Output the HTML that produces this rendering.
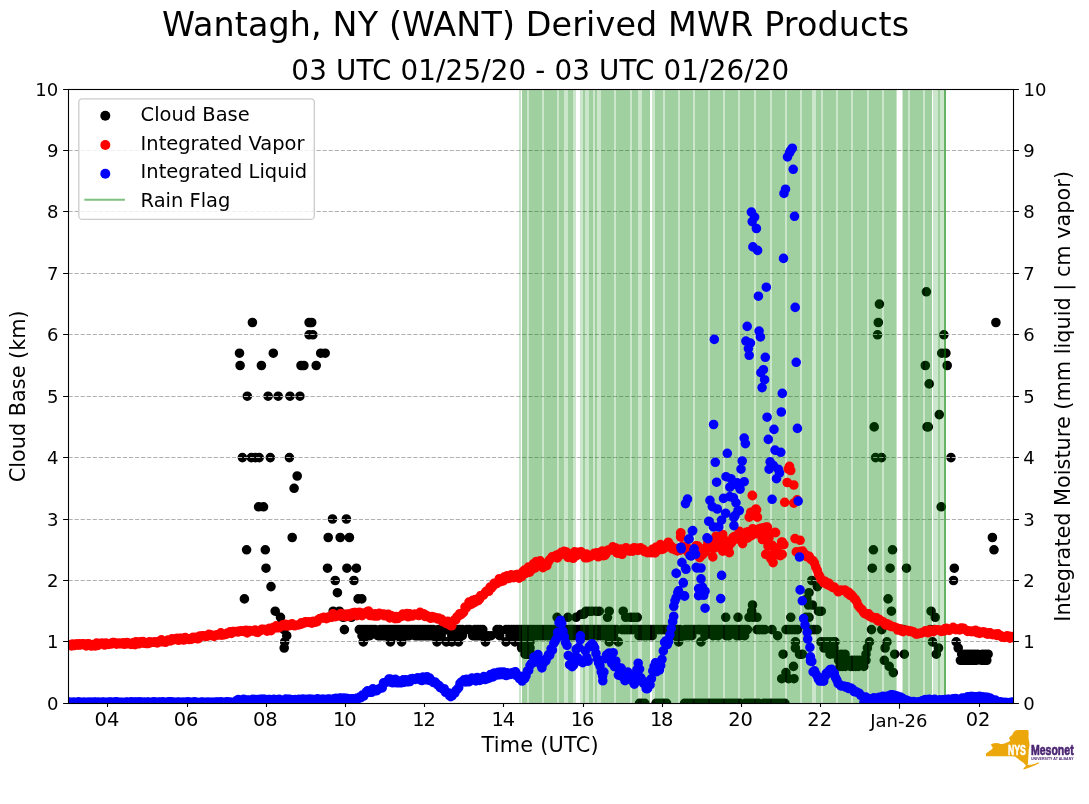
<!DOCTYPE html><html><head><meta charset="utf-8"><title>Wantagh MWR</title><style>html,body{margin:0;padding:0;background:#fff}svg{display:block}text{font-family:"DejaVu Sans","Liberation Sans",sans-serif;fill:#000}</style></head><body>
<svg width="1089" height="804" viewBox="0 0 1089 804">
<rect width="1089" height="804" fill="#fff"/>
<defs><clipPath id="ax"><rect x="68.5" y="89.5" width="945.0" height="614.0"/></clipPath></defs>
<g clip-path="url(#ax)">
<path d="M252.4 322.5h0M309.1 322.5h0M311.7 322.5h0M309.1 334.8h0M312.9 334.8h0M239.5 353.2h0M273.3 353.2h0M320.7 353.2h0M325.2 353.2h0M240.1 365.5h0M261.4 365.5h0M301.0 365.5h0M303.9 365.5h0M316.2 365.5h0M247.3 396.2h0M268.1 396.2h0M278.2 396.2h0M290.0 396.2h0M299.9 396.2h0M242.4 457.6h0M251.3 457.6h0M255.4 457.6h0M259.2 457.6h0M270.3 457.6h0M289.4 457.6h0M297.2 476.0h0M294.1 488.3h0M258.6 506.8h0M263.5 506.8h0M332.5 519.0h0M346.4 519.0h0M292.2 537.5h0M328.2 537.5h0M340.2 537.5h0M349.4 537.5h0M246.6 549.8h0M265.3 549.8h0M266.0 568.2h0M327.5 568.2h0M346.9 568.2h0M356.4 568.2h0M335.2 580.5h0M353.9 580.5h0M271.0 586.6h0M337.4 592.7h0M244.4 598.9h0M358.1 598.9h0M361.8 598.9h0M275.2 611.2h0M333.2 611.2h0M339.4 611.2h0M280.5 617.3h0M343.2 617.3h0M351.4 617.3h0M344.4 629.6h0M284.0 629.6h0M286.7 635.7h0M284.7 641.9h0M284.2 648.0h0M282.5 623.5h0M359.3 629.6h0M361.9 629.6h0M364.6 629.6h0M367.2 629.6h0M369.9 629.6h0M372.5 629.6h0M375.1 629.6h0M380.4 629.6h0M383.1 629.6h0M385.7 629.6h0M388.3 629.6h0M391.0 629.6h0M393.6 629.6h0M396.3 629.6h0M398.9 629.6h0M401.5 629.6h0M404.2 629.6h0M406.8 629.6h0M409.5 629.6h0M412.1 629.6h0M414.7 629.6h0M417.4 629.6h0M420.0 629.6h0M422.7 629.6h0M425.3 629.6h0M427.9 629.6h0M430.6 629.6h0M433.2 629.6h0M438.5 629.6h0M441.1 629.6h0M443.8 629.6h0M446.4 629.6h0M449.1 629.6h0M451.7 629.6h0M454.3 629.6h0M457.0 629.6h0M459.6 629.6h0M462.3 629.6h0M467.0 629.6h0M469.6 629.6h0M474.9 629.6h0M477.6 629.6h0M480.2 629.6h0M482.8 629.6h0M497.0 629.6h0M499.6 629.6h0M506.0 629.6h0M508.6 629.6h0M511.3 629.6h0M513.9 629.6h0M516.6 629.6h0M362.0 635.7h0M367.3 635.7h0M369.9 635.7h0M377.8 635.7h0M380.5 635.7h0M383.1 635.7h0M385.8 635.7h0M391.0 635.7h0M396.3 635.7h0M399.0 635.7h0M401.6 635.7h0M404.2 635.7h0M406.9 635.7h0M409.5 635.7h0M414.8 635.7h0M417.4 635.7h0M420.1 635.7h0M422.7 635.7h0M425.4 635.7h0M428.0 635.7h0M430.6 635.7h0M433.3 635.7h0M441.2 635.7h0M451.8 635.7h0M457.0 635.7h0M459.7 635.7h0M462.3 635.7h0M472.6 635.7h0M475.3 635.7h0M477.9 635.7h0M480.6 635.7h0M483.2 635.7h0M488.5 635.7h0M491.1 635.7h0M499.6 635.7h0M363.3 641.9h0M390.4 641.9h0M401.6 641.9h0M437.0 641.9h0M446.3 641.9h0M451.9 641.9h0M458.5 641.9h0M485.5 641.9h0M506.0 641.9h0M519.0 629.6h0M521.6 629.6h0M524.3 629.6h0M526.9 629.6h0M529.6 629.6h0M532.2 629.6h0M534.8 629.6h0M537.5 629.6h0M540.1 629.6h0M542.8 629.6h0M545.4 629.6h0M548.0 629.6h0M550.7 629.6h0M553.3 629.6h0M556.0 629.6h0M558.6 629.6h0M561.2 629.6h0M563.9 629.6h0M566.5 629.6h0M569.2 629.6h0M571.8 629.6h0M574.4 629.6h0M577.1 629.6h0M579.7 629.6h0M582.4 629.6h0M585.0 629.6h0M587.6 629.6h0M590.3 629.6h0M592.9 629.6h0M595.6 629.6h0M598.2 629.6h0M600.8 629.6h0M603.5 629.6h0M606.1 629.6h0M608.8 629.6h0M611.4 629.6h0M614.0 629.6h0M616.7 629.6h0M622.0 629.6h0M624.6 629.6h0M627.2 629.6h0M629.9 629.6h0M632.5 629.6h0M635.2 629.6h0M637.8 629.6h0M640.4 629.6h0M643.1 629.6h0M645.7 629.6h0M648.4 629.6h0M651.0 629.6h0M653.6 629.6h0M656.3 629.6h0M658.9 629.6h0M661.6 629.6h0M664.2 629.6h0M666.8 629.6h0M669.5 629.6h0M672.1 629.6h0M674.8 629.6h0M677.4 629.6h0M680.0 629.6h0M685.3 629.6h0M688.0 629.6h0M690.6 629.6h0M693.2 629.6h0M695.9 629.6h0M698.5 629.6h0M700.0 629.6h0M702.6 629.6h0M705.3 629.6h0M707.9 629.6h0M710.6 629.6h0M713.2 629.6h0M715.8 629.6h0M718.5 629.6h0M721.1 629.6h0M723.8 629.6h0M726.4 629.6h0M729.0 629.6h0M731.7 629.6h0M734.3 629.6h0M737.0 629.6h0M739.6 629.6h0M742.2 629.6h0M744.9 629.6h0M747.5 629.6h0M757.0 629.6h0M759.6 629.6h0M762.3 629.6h0M764.9 629.6h0M772.0 629.6h0M786.0 629.6h0M789.0 629.6h0M792.0 629.6h0M795.0 629.6h0M797.5 629.6h0M808.0 629.6h0M811.0 629.6h0M814.0 629.6h0M817.0 629.6h0M510.0 635.7h0M512.6 635.7h0M515.3 635.7h0M517.9 635.7h0M526.5 635.7h0M534.4 635.7h0M537.1 635.7h0M545.0 635.7h0M547.6 635.7h0M550.3 635.7h0M566.0 635.7h0M568.6 635.7h0M571.3 635.7h0M573.9 635.7h0M579.2 635.7h0M581.8 635.7h0M584.5 635.7h0M587.1 635.7h0M592.4 635.7h0M597.7 635.7h0M600.3 635.7h0M603.0 635.7h0M605.6 635.7h0M613.5 635.7h0M639.0 635.7h0M641.6 635.7h0M644.3 635.7h0M646.9 635.7h0M649.6 635.7h0M652.2 635.7h0M675.0 635.7h0M677.6 635.7h0M680.3 635.7h0M685.6 635.7h0M676.0 635.7h0M678.6 635.7h0M683.9 635.7h0M689.2 635.7h0M691.8 635.7h0M705.0 635.7h0M713.0 635.7h0M718.2 635.7h0M726.2 635.7h0M728.8 635.7h0M736.7 635.7h0M739.4 635.7h0M744.6 635.7h0M777.6 635.7h0M515.0 641.9h0M609.2 641.9h0M618.3 641.9h0M678.6 641.9h0M701.0 641.9h0M795.4 641.9h0M821.0 641.9h0M824.0 641.9h0M827.0 641.9h0M830.0 641.9h0M833.0 641.9h0M835.0 641.9h0M521.6 648.0h0M524.0 648.0h0M795.4 648.0h0M824.0 648.0h0M829.0 648.0h0M834.0 648.0h0M525.0 654.2h0M528.0 654.2h0M531.5 654.2h0M783.1 654.2h0M799.5 654.2h0M802.3 654.2h0M830.0 654.2h0M835.0 654.2h0M838.0 654.2h0M557.1 617.3h0M567.9 617.3h0M576.1 617.3h0M607.5 617.3h0M625.7 617.3h0M630.7 617.3h0M634.0 617.3h0M637.3 617.3h0M725.7 617.3h0M738.0 617.3h0M749.0 617.3h0M753.0 617.3h0M757.0 617.3h0M790.8 617.3h0M806.0 617.3h0M809.0 617.3h0M586.0 611.2h0M589.0 611.2h0M592.0 611.2h0M596.0 611.2h0M599.3 611.2h0M609.2 611.2h0M623.2 611.2h0M751.7 611.2h0M818.5 611.2h0M821.3 611.2h0M581.0 614.2h0M584.0 614.2h0M752.5 605.0h0M808.5 605.0h0M812.4 605.0h0M806.8 598.9h0M809.0 592.7h0M811.8 580.5h0M817.3 586.6h0M793.5 666.4h0M785.9 672.6h0M781.7 678.7h0M788.6 678.7h0M794.0 678.7h0M838.6 660.3h0M841.3 660.3h0M843.9 660.3h0M846.6 660.3h0M849.2 660.3h0M851.8 660.3h0M854.5 660.3h0M857.1 660.3h0M859.8 660.3h0M862.4 660.3h0M865.0 660.3h0M840.0 666.4h0M842.6 666.4h0M845.3 666.4h0M850.6 666.4h0M853.2 666.4h0M855.8 666.4h0M858.5 666.4h0M863.8 666.4h0M841.4 654.2h0M845.0 654.2h0M866.0 654.2h0M866.0 660.3h0M639.5 703.3h0M642.1 703.3h0M644.8 703.3h0M656.0 703.3h0M658.6 703.3h0M661.3 703.3h0M663.9 703.3h0M666.6 703.3h0M684.6 703.3h0M687.2 703.3h0M689.9 703.3h0M692.5 703.3h0M695.2 703.3h0M697.8 703.3h0M700.4 703.3h0M703.1 703.3h0M705.7 703.3h0M708.4 703.3h0M711.0 703.3h0M713.6 703.3h0M716.3 703.3h0M718.9 703.3h0M721.6 703.3h0M724.2 703.3h0M726.8 703.3h0M729.5 703.3h0M732.1 703.3h0M734.8 703.3h0M737.4 703.3h0M740.0 703.3h0M745.3 703.3h0M748.0 703.3h0M750.6 703.3h0M753.2 703.3h0M755.9 703.3h0M758.5 703.3h0M763.8 703.3h0M766.4 703.3h0M769.1 703.3h0M771.7 703.3h0M774.4 703.3h0M777.0 703.3h0M779.6 703.3h0M782.3 703.3h0M784.9 703.3h0M519.0 635.7h0M521.6 635.7h0M524.3 635.7h0M526.9 635.7h0M529.6 635.7h0M532.2 635.7h0M534.8 635.7h0M537.5 635.7h0M540.1 635.7h0M542.8 635.7h0M545.4 635.7h0M548.0 635.7h0M550.7 635.7h0M521.0 641.9h0M524.0 641.9h0M527.0 641.9h0M530.0 641.9h0M522.0 648.0h0M525.0 648.0h0M528.0 648.0h0M530.0 648.0h0M526.0 654.2h0M529.0 654.2h0M926.4 291.8h0M879.4 304.1h0M878.3 322.5h0M995.9 322.5h0M877.5 334.8h0M943.9 334.8h0M941.8 353.2h0M945.9 353.2h0M925.3 365.5h0M947.2 365.5h0M929.2 383.9h0M939.3 414.6h0M874.2 426.9h0M927.0 426.9h0M928.3 426.9h0M875.6 457.6h0M881.6 457.6h0M951.0 457.6h0M941.2 506.8h0M992.4 537.5h0M994.0 549.8h0M873.4 549.8h0M892.5 549.8h0M872.3 568.2h0M890.1 568.2h0M906.5 568.2h0M954.3 568.2h0M953.5 580.5h0M888.1 598.9h0M891.4 611.2h0M931.1 611.2h0M935.2 617.3h0M871.5 629.6h0M881.8 629.6h0M903.5 629.6h0M930.3 629.6h0M934.4 629.6h0M869.5 641.9h0M887.0 641.9h0M932.5 641.9h0M956.2 641.9h0M867.4 648.0h0M885.1 648.0h0M938.5 648.0h0M958.2 648.0h0M894.7 654.2h0M904.3 654.2h0M936.3 654.2h0M866.0 654.2h0M884.3 660.3h0M889.2 666.4h0M893.3 672.6h0M961.7 654.2h0M964.3 654.2h0M967.0 654.2h0M969.6 654.2h0M972.3 654.2h0M974.9 654.2h0M977.5 654.2h0M982.8 654.2h0M985.5 654.2h0M988.1 654.2h0M960.4 660.3h0M963.0 660.3h0M965.7 660.3h0M968.3 660.3h0M971.0 660.3h0M973.6 660.3h0M976.2 660.3h0M981.5 660.3h0M984.2 660.3h0M986.8 660.3h0" stroke="#000" stroke-width="9.6" stroke-linecap="round" fill="none"/>
<path d="M68.5 641.5H1013.5M68.5 580.5H1013.5M68.5 519.5H1013.5M68.5 457.5H1013.5M68.5 396.5H1013.5M68.5 334.5H1013.5M68.5 273.5H1013.5M68.5 211.5H1013.5M68.5 150.5H1013.5" stroke="#b0b0b0" stroke-width="1" stroke-dasharray="4.2 1.85" fill="none"/>
<g fill="rgb(0,128,0)"><rect x="519.0" y="89.5" width="2.0" height="614.0" fill-opacity="0.200"/><rect x="522.0" y="89.5" width="5.0" height="614.0" fill-opacity="0.373"/><rect x="527.0" y="89.5" width="2.0" height="614.0" fill-opacity="0.200"/><rect x="529.0" y="89.5" width="13.0" height="614.0" fill-opacity="0.373"/><rect x="542.0" y="89.5" width="2.0" height="614.0" fill-opacity="0.200"/><rect x="544.0" y="89.5" width="13.0" height="614.0" fill-opacity="0.373"/><rect x="557.0" y="89.5" width="2.0" height="614.0" fill-opacity="0.200"/><rect x="559.0" y="89.5" width="5.0" height="614.0" fill-opacity="0.373"/><rect x="564.0" y="89.5" width="4.0" height="614.0" fill-opacity="0.200"/><rect x="568.0" y="89.5" width="5.0" height="614.0" fill-opacity="0.373"/><rect x="573.0" y="89.5" width="3.0" height="614.0" fill-opacity="0.200"/><rect x="580.0" y="89.5" width="3.0" height="614.0" fill-opacity="0.200"/><rect x="583.0" y="89.5" width="2.0" height="614.0" fill-opacity="0.373"/><rect x="585.0" y="89.5" width="4.0" height="614.0" fill-opacity="0.200"/><rect x="589.0" y="89.5" width="4.0" height="614.0" fill-opacity="0.373"/><rect x="593.0" y="89.5" width="2.0" height="614.0" fill-opacity="0.200"/><rect x="595.0" y="89.5" width="2.0" height="614.0" fill-opacity="0.373"/><rect x="597.0" y="89.5" width="4.0" height="614.0" fill-opacity="0.200"/><rect x="601.0" y="89.5" width="13.0" height="614.0" fill-opacity="0.373"/><rect x="614.0" y="89.5" width="2.0" height="614.0" fill-opacity="0.200"/><rect x="616.0" y="89.5" width="14.0" height="614.0" fill-opacity="0.373"/><rect x="630.0" y="89.5" width="2.0" height="614.0" fill-opacity="0.200"/><rect x="632.0" y="89.5" width="6.0" height="614.0" fill-opacity="0.373"/><rect x="638.0" y="89.5" width="4.0" height="614.0" fill-opacity="0.200"/><rect x="642.0" y="89.5" width="8.0" height="614.0" fill-opacity="0.373"/><rect x="652.0" y="89.5" width="3.0" height="614.0" fill-opacity="0.200"/><rect x="655.0" y="89.5" width="8.0" height="614.0" fill-opacity="0.373"/><rect x="663.0" y="89.5" width="2.0" height="614.0" fill-opacity="0.200"/><rect x="665.0" y="89.5" width="13.0" height="614.0" fill-opacity="0.373"/><rect x="678.0" y="89.5" width="2.0" height="614.0" fill-opacity="0.200"/><rect x="680.0" y="89.5" width="13.0" height="614.0" fill-opacity="0.373"/><rect x="693.0" y="89.5" width="2.0" height="614.0" fill-opacity="0.200"/><rect x="695.0" y="89.5" width="13.0" height="614.0" fill-opacity="0.373"/><rect x="708.0" y="89.5" width="2.0" height="614.0" fill-opacity="0.200"/><rect x="710.0" y="89.5" width="13.0" height="614.0" fill-opacity="0.373"/><rect x="723.0" y="89.5" width="2.0" height="614.0" fill-opacity="0.200"/><rect x="725.0" y="89.5" width="13.0" height="614.0" fill-opacity="0.373"/><rect x="738.0" y="89.5" width="2.0" height="614.0" fill-opacity="0.200"/><rect x="740.0" y="89.5" width="14.0" height="614.0" fill-opacity="0.373"/><rect x="754.0" y="89.5" width="2.0" height="614.0" fill-opacity="0.200"/><rect x="756.0" y="89.5" width="14.0" height="614.0" fill-opacity="0.373"/><rect x="770.0" y="89.5" width="2.0" height="614.0" fill-opacity="0.200"/><rect x="772.0" y="89.5" width="13.0" height="614.0" fill-opacity="0.373"/><rect x="785.0" y="89.5" width="2.0" height="614.0" fill-opacity="0.200"/><rect x="787.0" y="89.5" width="13.0" height="614.0" fill-opacity="0.373"/><rect x="800.0" y="89.5" width="2.0" height="614.0" fill-opacity="0.200"/><rect x="802.0" y="89.5" width="10.0" height="614.0" fill-opacity="0.373"/><rect x="812.0" y="89.5" width="4.0" height="614.0" fill-opacity="0.200"/><rect x="816.0" y="89.5" width="5.0" height="614.0" fill-opacity="0.373"/><rect x="821.0" y="89.5" width="2.0" height="614.0" fill-opacity="0.200"/><rect x="823.0" y="89.5" width="13.0" height="614.0" fill-opacity="0.373"/><rect x="836.0" y="89.5" width="2.0" height="614.0" fill-opacity="0.200"/><rect x="838.0" y="89.5" width="13.0" height="614.0" fill-opacity="0.373"/><rect x="851.0" y="89.5" width="2.0" height="614.0" fill-opacity="0.200"/><rect x="853.0" y="89.5" width="14.0" height="614.0" fill-opacity="0.373"/><rect x="867.0" y="89.5" width="2.0" height="614.0" fill-opacity="0.200"/><rect x="869.0" y="89.5" width="13.0" height="614.0" fill-opacity="0.373"/><rect x="882.0" y="89.5" width="2.0" height="614.0" fill-opacity="0.200"/><rect x="884.0" y="89.5" width="12.6" height="614.0" fill-opacity="0.373"/><rect x="902.5" y="89.5" width="5.5" height="614.0" fill-opacity="0.373"/><rect x="908.0" y="89.5" width="2.0" height="614.0" fill-opacity="0.200"/><rect x="910.0" y="89.5" width="13.0" height="614.0" fill-opacity="0.373"/><rect x="923.0" y="89.5" width="2.0" height="614.0" fill-opacity="0.200"/><rect x="925.0" y="89.5" width="7.0" height="614.0" fill-opacity="0.373"/><rect x="933.0" y="89.5" width="5.0" height="614.0" fill-opacity="0.200"/><rect x="938.0" y="89.5" width="2.0" height="614.0" fill-opacity="0.373"/><rect x="940.0" y="89.5" width="4.0" height="614.0" fill-opacity="0.200"/><rect x="944.0" y="89.5" width="2.0" height="614.0" fill-opacity="0.600"/></g>
<path d="M69.0 645.1h0M70.3 644.5h0M71.6 645.9h0M73.0 644.1h0M74.3 645.5h0M75.6 644.9h0M76.9 643.9h0M78.2 645.2h0M79.6 643.8h0M80.9 644.9h0M82.2 643.8h0M83.5 643.8h0M84.8 644.7h0M86.2 645.9h0M87.5 643.7h0M88.8 643.9h0M90.1 645.1h0M91.4 646.0h0M92.8 644.8h0M94.1 644.2h0M95.4 645.9h0M96.7 643.1h0M98.0 645.4h0M99.4 643.7h0M100.7 643.2h0M102.0 643.1h0M103.3 643.6h0M104.6 645.0h0M106.0 643.1h0M107.3 644.2h0M108.6 644.4h0M109.9 643.5h0M111.2 644.0h0M112.6 642.5h0M113.9 642.5h0M115.2 642.9h0M116.5 644.2h0M117.8 643.4h0M119.2 643.1h0M120.5 643.8h0M121.8 643.4h0M123.1 642.9h0M124.4 644.3h0M125.8 644.0h0M127.1 642.6h0M128.4 643.6h0M129.7 643.4h0M131.0 644.4h0M132.4 643.9h0M133.7 642.5h0M135.0 644.6h0M136.3 641.9h0M137.6 642.8h0M139.0 643.8h0M140.3 641.9h0M141.6 642.9h0M142.9 641.5h0M144.2 643.3h0M145.6 643.4h0M146.9 642.7h0M148.2 643.5h0M149.5 641.7h0M150.8 642.7h0M152.2 642.3h0M153.5 642.2h0M154.8 641.7h0M156.1 642.7h0M157.4 642.9h0M158.8 641.4h0M160.1 641.8h0M161.4 639.9h0M162.7 641.7h0M164.0 641.4h0M165.4 642.3h0M166.7 641.7h0M168.0 640.0h0M169.3 640.1h0M170.6 640.9h0M172.0 638.8h0M173.3 639.9h0M174.6 638.9h0M175.9 638.6h0M177.2 638.3h0M178.6 640.3h0M179.9 638.2h0M181.2 638.4h0M182.5 638.7h0M183.8 640.0h0M185.2 637.5h0M186.5 638.5h0M187.8 638.6h0M189.1 639.5h0M190.4 639.1h0M191.8 639.1h0M193.1 637.2h0M194.4 637.5h0M195.7 637.2h0M197.0 638.6h0M198.4 638.7h0M199.7 636.1h0M201.0 636.0h0M202.3 635.9h0M203.6 635.8h0M205.0 636.3h0M206.3 636.5h0M207.6 635.3h0M208.9 634.3h0M210.2 635.4h0M211.6 635.0h0M212.9 635.5h0M214.2 636.4h0M215.5 635.5h0M216.8 634.7h0M218.2 634.9h0M219.5 634.9h0M220.8 632.8h0M222.1 635.1h0M223.4 634.6h0M224.8 634.7h0M226.1 634.3h0M227.4 633.0h0M228.7 632.9h0M230.0 631.9h0M231.4 633.4h0M232.7 631.6h0M234.0 631.5h0M235.3 631.8h0M236.6 631.6h0M238.0 632.0h0M239.3 631.0h0M240.6 630.8h0M241.9 631.1h0M243.2 630.9h0M244.6 631.6h0M245.9 630.4h0M247.2 632.9h0M248.5 632.0h0M249.8 630.5h0M251.2 630.7h0M252.5 630.9h0M253.8 630.8h0M255.1 630.0h0M256.4 632.0h0M257.8 632.4h0M259.1 630.7h0M260.4 630.6h0M261.7 629.3h0M263.0 629.2h0M264.4 629.9h0M265.7 629.5h0M267.0 631.1h0M268.3 629.0h0M269.6 628.4h0M271.0 630.7h0M272.3 628.9h0M273.6 627.3h0M274.9 628.0h0M276.2 625.9h0M277.6 626.9h0M278.9 627.8h0M280.2 627.0h0M281.5 626.3h0M282.8 624.8h0M284.2 625.0h0M285.5 624.3h0M286.8 626.0h0M288.1 625.1h0M289.4 625.7h0M290.8 624.2h0M292.1 623.8h0M293.4 625.4h0M294.7 625.8h0M296.0 625.3h0M297.4 625.0h0M298.7 624.9h0M300.0 624.5h0M301.3 622.9h0M302.6 623.6h0M304.0 623.0h0M305.3 621.9h0M306.6 621.7h0M307.9 622.3h0M309.2 621.9h0M310.6 622.8h0M311.9 623.2h0M313.2 621.3h0M314.5 622.3h0M315.8 622.1h0M317.2 621.6h0M318.5 619.5h0M319.8 618.6h0M321.1 618.3h0M322.4 617.8h0M323.8 617.4h0M325.1 618.3h0M326.4 618.7h0M327.7 618.1h0M329.0 616.7h0M330.4 617.0h0M331.7 617.3h0M333.0 613.7h0M334.3 615.9h0M335.6 616.6h0M337.0 616.1h0M338.3 616.0h0M339.6 614.9h0M340.9 613.5h0M342.2 616.1h0M343.6 614.0h0M344.9 616.0h0M346.2 616.7h0M347.5 614.1h0M348.8 614.0h0M350.2 616.3h0M351.5 615.3h0M352.8 612.7h0M354.1 612.5h0M355.4 612.5h0M356.8 615.7h0M358.1 615.2h0M359.4 612.2h0M360.7 615.1h0M362.0 615.7h0M363.4 614.2h0M364.7 612.8h0M366.0 613.5h0M367.3 611.6h0M368.6 611.1h0M370.0 615.5h0M371.3 614.3h0M372.6 613.9h0M373.9 615.9h0M375.2 613.9h0M376.6 616.0h0M377.9 615.9h0M379.2 613.4h0M380.5 613.8h0M381.8 614.1h0M383.2 614.1h0M384.5 615.8h0M385.8 614.5h0M387.1 615.4h0M388.4 614.3h0M389.8 617.9h0M391.1 615.6h0M392.4 616.2h0M393.7 617.0h0M395.0 618.6h0M396.4 616.5h0M397.7 618.5h0M399.0 616.6h0M400.3 616.5h0M401.6 616.4h0M403.0 614.0h0M404.3 615.7h0M405.6 614.4h0M406.9 613.5h0M408.2 616.8h0M409.6 613.9h0M410.9 615.1h0M412.2 616.0h0M413.5 615.1h0M414.8 614.0h0M416.2 614.6h0M417.5 614.7h0M418.8 615.5h0M420.1 612.4h0M421.4 614.6h0M422.8 613.6h0M424.1 614.0h0M425.4 616.5h0M426.7 615.6h0M428.0 616.2h0M429.4 617.3h0M430.7 618.3h0M432.0 616.6h0M433.3 617.6h0M434.6 617.4h0M436.0 617.8h0M437.3 618.9h0M438.6 618.1h0M439.9 618.8h0M441.2 619.0h0M442.6 621.7h0M443.9 621.3h0M445.2 622.7h0M446.5 623.7h0M447.8 621.3h0M449.2 623.3h0M450.5 625.6h0M451.8 625.8h0M453.1 621.4h0M454.4 619.9h0M455.8 619.8h0M457.1 616.7h0M458.4 616.0h0M459.7 613.7h0M461.0 614.6h0M462.4 613.4h0M463.7 612.1h0M465.0 607.1h0M466.3 607.9h0M467.6 605.9h0M469.0 602.1h0M470.3 604.6h0M471.6 604.2h0M472.9 600.2h0M474.2 602.7h0M475.6 599.5h0M476.9 599.1h0M478.2 600.6h0M479.5 599.2h0M480.8 595.5h0M482.2 595.8h0M483.5 595.0h0M484.8 593.1h0M486.1 591.3h0M487.4 590.7h0M488.8 591.3h0M490.1 587.1h0M491.4 588.2h0M492.7 586.5h0M494.0 583.4h0M495.4 583.5h0M496.7 583.6h0M498.0 581.9h0M499.3 578.7h0M500.6 581.7h0M502.0 580.4h0M503.3 580.9h0M504.6 576.7h0M505.9 577.0h0M507.2 575.7h0M508.6 578.5h0M509.9 575.9h0M511.2 574.9h0M512.5 575.9h0M513.8 577.6h0M515.2 576.9h0M516.5 574.6h0M517.8 574.5h0M519.1 578.2h0M520.4 576.7h0M521.8 576.6h0M523.1 571.4h0M524.4 570.1h0M525.7 573.4h0M527.0 570.5h0M528.4 567.1h0M529.7 572.1h0M531.0 569.2h0M532.3 569.4h0M533.6 563.7h0M535.0 568.0h0M536.3 561.5h0M537.6 565.8h0M538.9 561.8h0M540.2 560.8h0M541.6 563.6h0M542.9 567.6h0M544.2 564.5h0M545.5 564.5h0M546.8 565.7h0M548.2 562.2h0M549.5 559.8h0M550.8 558.7h0M552.1 556.8h0M553.4 556.6h0M554.8 556.2h0M556.1 555.4h0M557.4 557.9h0M558.7 554.2h0M560.0 555.1h0M561.4 552.4h0M562.7 553.1h0M564.0 551.3h0M565.3 553.3h0M566.6 552.1h0M568.0 557.4h0M569.3 556.6h0M570.6 554.6h0M571.9 555.9h0M573.2 558.3h0M574.6 551.9h0M575.9 556.0h0M577.2 552.7h0M578.5 552.4h0M579.8 554.3h0M581.2 551.9h0M582.5 553.3h0M583.8 555.2h0M585.1 557.8h0M586.4 554.0h0M587.8 557.7h0M589.1 557.0h0M590.4 556.7h0M591.7 555.3h0M593.0 555.0h0M594.4 553.2h0M595.7 553.5h0M597.0 552.7h0M598.3 556.8h0M599.6 553.1h0M601.0 552.0h0M602.3 551.0h0M603.6 555.7h0M604.9 555.4h0M606.2 553.6h0M607.6 550.4h0M608.9 549.7h0M610.2 549.6h0M611.5 549.9h0M612.8 546.9h0M614.2 548.7h0M615.5 547.8h0M616.8 552.9h0M618.1 553.3h0M619.4 550.8h0M620.8 549.0h0M622.1 554.3h0M623.4 549.8h0M624.7 550.1h0M626.0 547.7h0M627.4 550.3h0M628.7 550.9h0M630.0 551.1h0M631.3 549.1h0M632.6 551.1h0M634.0 547.7h0M635.3 549.5h0M636.6 548.3h0M637.9 550.4h0M639.2 548.0h0M640.6 547.9h0M641.9 549.8h0M643.2 549.3h0M644.5 551.7h0M645.8 551.3h0M647.2 552.6h0M648.5 551.7h0M649.8 551.9h0M651.1 552.8h0M652.4 549.3h0M653.8 548.7h0M655.1 552.9h0M656.4 547.0h0M657.7 550.4h0M659.0 549.3h0M660.4 544.6h0M661.7 549.4h0M663.0 549.2h0M664.3 546.8h0M665.6 546.9h0M667.0 546.9h0M668.3 542.2h0M669.6 545.5h0M670.9 545.9h0M672.2 548.8h0M673.6 549.2h0M674.9 549.9h0M676.2 548.5h0M677.5 550.9h0M678.8 549.8h0M680.2 550.2h0M681.5 547.3h0M682.8 546.3h0M684.1 547.3h0M685.4 549.1h0M686.8 547.4h0M688.1 552.3h0M689.4 550.3h0M690.7 550.6h0M692.0 550.5h0M693.4 550.7h0M694.7 549.3h0M696.0 545.8h0M697.3 551.1h0M698.6 552.1h0M700.0 553.4h0M701.3 555.6h0M702.6 554.7h0M703.9 549.0h0M705.2 551.8h0M706.6 546.8h0M707.9 543.9h0M709.2 544.8h0M710.5 547.6h0M711.8 543.6h0M713.2 546.8h0M714.5 548.0h0M715.8 544.3h0M717.1 543.1h0M718.4 543.3h0M719.8 544.2h0M721.1 544.4h0M722.4 542.9h0M723.7 543.5h0M725.0 540.4h0M726.4 541.5h0M727.7 542.9h0M729.0 546.1h0M730.3 541.9h0M731.6 542.5h0M733.0 537.5h0M734.3 536.6h0M735.6 536.8h0M736.9 539.0h0M738.2 539.0h0M739.6 538.7h0M740.9 535.9h0M742.2 537.2h0M743.5 536.1h0M744.8 535.4h0M746.2 532.4h0M747.5 537.0h0M748.8 531.6h0M750.1 536.4h0M751.4 535.5h0M752.8 528.7h0M754.1 531.1h0M755.4 533.0h0M756.7 533.8h0M758.0 530.1h0M759.4 528.7h0M760.7 528.2h0M762.0 533.0h0M763.3 527.9h0M764.6 530.3h0M766.0 527.1h0M680.6 532.9h0M680.9 533.0h0M680.6 537.0h0M697.9 546.1h0M699.6 557.7h0M704.5 552.7h0M712.8 556.9h0M707.9 542.8h0M716.1 536.2h0M722.7 534.5h0M722.7 551.1h0M729.3 552.7h0M727.7 541.2h0M736.0 537.9h0M739.3 531.2h0M742.6 543.6h0M747.5 532.9h0M747.5 538.0h0M754.1 529.6h0M759.1 531.2h0M767.4 527.1h0M765.7 532.9h0M762.4 539.5h0M769.0 537.9h0M775.6 532.6h0M772.3 545.3h0M782.2 542.0h0M783.9 544.5h0M777.3 547.8h0M765.7 554.4h0M778.9 555.2h0M770.7 558.5h0M773.1 562.6h0M782.2 554.4h0M774.9 532.4h0M781.7 542.0h0M766.7 554.3h0M780.4 555.7h0M768.0 546.0h0M775.0 551.0h0M752.5 495.7h0M756.6 509.8h0M750.8 512.2h0M749.2 517.2h0M757.4 517.2h0M787.2 482.5h0M793.8 485.0h0M784.7 502.3h0M793.8 503.1h0M797.1 499.8h0M795.0 538.6h0M800.1 540.3h0M796.3 551.9h0M789.5 466.3h0M790.7 470.5h0M788.3 469.0h0M752.2 495.4h0M755.9 509.0h0M800.0 551.6h0M801.3 552.9h0M802.6 551.1h0M804.0 554.1h0M805.3 554.4h0M806.6 556.6h0M807.9 556.9h0M809.2 556.4h0M810.6 559.0h0M811.9 560.0h0M813.2 560.9h0M814.5 563.2h0M815.8 567.2h0M817.2 570.1h0M818.5 574.1h0M819.8 576.3h0M821.1 579.5h0M822.4 580.5h0M823.8 582.8h0M825.1 581.3h0M826.4 584.1h0M827.7 584.9h0M829.0 583.4h0M830.4 586.2h0M831.7 586.2h0M833.0 587.5h0M834.3 587.1h0M835.6 588.7h0M837.0 590.1h0M838.3 591.8h0M839.6 590.6h0M840.9 590.0h0M842.2 590.2h0M843.6 590.2h0M844.9 590.1h0M846.2 590.8h0M847.5 593.4h0M848.8 592.4h0M850.2 595.4h0M851.5 594.9h0M852.8 596.4h0M854.1 598.6h0M855.4 599.3h0M856.8 601.8h0M858.1 605.4h0M859.4 607.2h0M860.7 608.6h0M862.0 609.6h0M863.4 612.0h0M864.7 613.7h0M866.0 613.6h0M867.3 614.9h0M868.6 613.9h0M870.0 616.7h0M871.3 616.5h0M872.6 617.8h0M873.9 618.2h0M875.2 617.8h0M876.6 617.8h0M877.9 620.9h0M879.2 619.4h0M880.5 621.0h0M881.8 621.3h0M883.2 621.8h0M884.5 623.7h0M885.8 625.0h0M887.1 623.7h0M888.4 625.4h0M889.8 625.1h0M891.1 626.5h0M892.4 626.7h0M893.7 626.7h0M895.0 627.2h0M896.4 627.7h0M897.7 630.0h0M899.0 629.2h0M900.3 628.8h0M901.6 631.1h0M903.0 631.7h0M904.3 630.5h0M905.6 630.0h0M906.9 630.4h0M908.2 630.5h0M909.6 631.5h0M910.9 631.0h0M912.2 631.6h0M913.5 631.9h0M914.8 633.0h0M916.2 634.1h0M917.5 634.0h0M918.8 633.3h0M920.1 633.2h0M921.4 633.1h0M922.8 632.4h0M924.1 632.0h0M925.4 630.9h0M926.7 631.2h0M928.0 632.8h0M929.4 630.1h0M930.7 630.9h0M932.0 631.2h0M933.3 631.7h0M934.6 629.8h0M936.0 629.9h0M937.3 629.7h0M938.6 630.1h0M939.9 630.1h0M941.2 631.4h0M942.6 631.1h0M943.9 631.0h0M945.2 628.5h0M946.5 628.3h0M947.8 630.0h0M949.2 630.4h0M950.5 629.0h0M951.8 629.1h0M953.1 627.3h0M954.4 628.2h0M955.8 629.6h0M957.1 629.1h0M958.4 629.3h0M959.7 629.9h0M961.0 628.1h0M962.4 628.0h0M963.7 628.4h0M965.0 629.7h0M966.3 630.4h0M967.6 631.4h0M969.0 631.0h0M970.3 631.1h0M971.6 631.7h0M972.9 631.0h0M974.2 631.5h0M975.6 630.3h0M976.9 632.6h0M978.2 631.3h0M979.5 633.4h0M980.8 632.9h0M982.2 632.1h0M983.5 631.9h0M984.8 632.4h0M986.1 633.7h0M987.4 634.1h0M988.8 632.7h0M990.1 632.8h0M991.4 634.3h0M992.7 634.7h0M994.0 634.3h0M995.4 634.1h0M996.7 635.4h0M998.0 633.9h0M999.3 635.0h0M1000.6 635.6h0M1002.0 637.2h0M1003.3 636.6h0M1004.6 637.4h0M1005.9 636.4h0M1007.2 635.9h0M1008.6 636.0h0M1009.9 638.1h0M1011.2 637.6h0M1012.5 636.6h0" stroke="#f00" stroke-width="9.6" stroke-linecap="round" fill="none"/>
<path d="M68.0 701.9h0M69.3 702.2h0M70.6 702.3h0M72.0 702.2h0M73.3 702.1h0M74.6 702.3h0M75.9 702.5h0M77.2 702.0h0M78.6 701.9h0M79.9 702.1h0M81.2 702.2h0M82.5 702.3h0M83.8 702.0h0M85.2 702.4h0M86.5 702.3h0M87.8 702.2h0M89.1 702.0h0M90.4 702.5h0M91.8 702.1h0M93.1 702.4h0M94.4 702.0h0M95.7 702.0h0M97.0 702.4h0M98.4 702.1h0M99.7 702.5h0M101.0 702.2h0M102.3 702.0h0M103.6 702.0h0M105.0 702.2h0M106.3 702.3h0M107.6 702.5h0M108.9 702.0h0M110.2 702.1h0M111.6 702.0h0M112.9 702.5h0M114.2 702.0h0M115.5 701.9h0M116.8 701.9h0M118.2 702.1h0M119.5 702.4h0M120.8 702.4h0M122.1 702.3h0M123.4 702.5h0M124.8 702.5h0M126.1 702.1h0M127.4 702.0h0M128.7 702.5h0M130.0 702.3h0M131.4 701.9h0M132.7 702.3h0M134.0 702.1h0M135.3 702.1h0M136.6 702.1h0M138.0 702.0h0M139.3 701.9h0M140.6 702.1h0M141.9 702.1h0M143.2 702.5h0M144.6 702.0h0M145.9 702.5h0M147.2 702.0h0M148.5 702.1h0M149.8 702.4h0M151.2 702.4h0M152.5 702.2h0M153.8 701.9h0M155.1 702.2h0M156.4 702.1h0M157.8 702.5h0M159.1 702.0h0M160.4 702.1h0M161.7 702.4h0M163.0 701.9h0M164.4 702.1h0M165.7 702.4h0M167.0 702.4h0M168.3 701.9h0M169.6 701.9h0M171.0 701.9h0M172.3 702.5h0M173.6 702.1h0M174.9 702.3h0M176.2 702.4h0M177.6 702.1h0M178.9 702.1h0M180.2 702.5h0M181.5 702.3h0M182.8 702.1h0M184.2 702.3h0M185.5 702.1h0M186.8 702.1h0M188.1 701.9h0M189.4 702.4h0M190.8 702.4h0M192.1 702.3h0M193.4 702.5h0M194.7 701.9h0M196.0 702.0h0M197.4 702.2h0M198.7 702.5h0M200.0 702.5h0M201.3 702.1h0M202.6 702.1h0M204.0 702.2h0M205.3 702.2h0M206.6 702.5h0M207.9 702.0h0M209.2 702.4h0M210.6 702.3h0M211.9 702.4h0M213.2 702.4h0M214.5 702.3h0M215.8 702.1h0M217.2 702.1h0M218.5 702.1h0M219.8 702.4h0M221.1 701.9h0M222.4 702.0h0M223.8 702.4h0M225.1 702.0h0M226.4 701.9h0M227.7 701.9h0M229.0 702.2h0M230.4 702.1h0M231.7 702.5h0M233.0 702.4h0M234.3 702.3h0M235.6 701.3h0M237.0 700.2h0M238.3 699.6h0M239.6 699.8h0M240.9 700.1h0M242.2 699.7h0M243.6 699.4h0M244.9 699.7h0M246.2 700.0h0M247.5 700.0h0M248.8 700.1h0M250.2 700.3h0M251.5 700.0h0M252.8 699.2h0M254.1 700.2h0M255.4 699.5h0M256.8 699.9h0M258.1 699.6h0M259.4 700.1h0M260.7 699.3h0M262.0 699.4h0M263.4 699.4h0M264.7 699.3h0M266.0 700.3h0M267.3 699.8h0M268.6 699.5h0M270.0 699.6h0M271.3 700.4h0M272.6 699.7h0M273.9 699.3h0M275.2 700.2h0M276.6 699.9h0M277.9 700.4h0M279.2 699.2h0M280.5 699.7h0M281.8 700.2h0M283.2 700.2h0M284.5 700.3h0M285.8 699.1h0M287.1 699.4h0M288.4 699.2h0M289.8 699.3h0M291.1 700.3h0M292.4 699.8h0M293.7 700.3h0M295.0 699.5h0M296.4 700.2h0M297.7 699.6h0M299.0 699.3h0M300.3 700.1h0M301.6 700.3h0M303.0 699.1h0M304.3 699.8h0M305.6 699.8h0M306.9 699.3h0M308.2 699.5h0M309.6 699.1h0M310.9 699.2h0M312.2 699.3h0M313.5 699.8h0M314.8 699.8h0M316.2 699.2h0M317.5 698.9h0M318.8 699.4h0M320.1 699.9h0M321.4 699.2h0M322.8 699.4h0M324.1 699.2h0M325.4 700.0h0M326.7 699.7h0M328.0 699.0h0M329.4 699.0h0M330.7 699.4h0M332.0 699.4h0M333.3 699.4h0M334.6 698.5h0M336.0 698.4h0M337.3 699.0h0M338.6 698.5h0M339.9 698.1h0M341.2 698.0h0M342.6 698.9h0M343.9 698.1h0M345.2 698.6h0M346.5 698.4h0M347.8 698.6h0M349.2 699.4h0M350.5 699.7h0M351.8 698.9h0M353.1 698.8h0M354.4 699.7h0M355.8 699.1h0M357.1 698.1h0M358.4 698.6h0M359.7 697.1h0M361.0 697.6h0M362.4 695.1h0M363.7 696.2h0M365.0 693.8h0M366.3 692.0h0M367.6 690.7h0M369.0 692.2h0M370.3 691.9h0M371.6 692.3h0M372.9 688.9h0M374.2 691.0h0M375.6 690.0h0M376.9 690.6h0M378.2 689.2h0M379.5 688.7h0M380.8 688.0h0M382.2 687.9h0M383.5 682.9h0M384.8 682.8h0M386.1 682.3h0M387.4 681.9h0M388.8 679.1h0M390.1 679.0h0M391.4 682.4h0M392.7 682.8h0M394.0 680.9h0M395.4 679.3h0M396.7 682.8h0M398.0 680.7h0M399.3 682.8h0M400.6 681.7h0M402.0 682.6h0M403.3 679.9h0M404.6 682.2h0M405.9 679.8h0M407.2 680.3h0M408.6 681.8h0M409.9 681.5h0M411.2 678.7h0M412.5 678.6h0M413.8 679.1h0M415.2 679.4h0M416.5 678.8h0M417.8 677.7h0M419.1 678.1h0M420.4 679.9h0M421.8 680.5h0M423.1 677.0h0M424.4 679.0h0M425.7 679.7h0M427.0 676.7h0M428.4 680.2h0M429.7 678.1h0M431.0 680.8h0M432.3 681.4h0M433.6 682.5h0M435.0 682.0h0M436.3 683.3h0M437.6 684.9h0M438.9 685.5h0M440.2 687.6h0M441.6 688.0h0M442.9 689.1h0M444.2 688.7h0M445.5 692.3h0M446.8 692.8h0M448.2 692.7h0M449.5 695.7h0M450.8 696.6h0M452.1 695.8h0M453.4 693.4h0M454.8 693.2h0M456.1 690.4h0M457.4 689.2h0M458.7 687.6h0M460.0 683.4h0M461.4 682.0h0M462.7 681.9h0M464.0 679.8h0M465.3 681.9h0M466.6 679.4h0M468.0 681.7h0M469.3 681.6h0M470.6 680.2h0M471.9 678.1h0M473.2 679.6h0M474.6 678.9h0M475.9 680.9h0M477.2 677.5h0M478.5 680.1h0M479.8 680.4h0M481.2 679.2h0M482.5 679.3h0M483.8 676.6h0M485.1 679.5h0M486.4 677.2h0M487.8 678.6h0M489.1 678.1h0M490.4 674.6h0M491.7 676.7h0M493.0 676.9h0M494.4 673.0h0M495.7 673.8h0M497.0 675.0h0M498.3 672.2h0M499.6 674.7h0M501.0 672.1h0M502.3 674.5h0M503.6 672.0h0M504.9 673.6h0M506.2 675.5h0M507.6 672.9h0M508.9 673.3h0M510.2 674.5h0M511.5 674.0h0M512.8 672.5h0M514.2 672.8h0M515.5 671.9h0M516.8 675.9h0M518.1 676.0h0M519.4 678.6h0M520.8 676.3h0M522.1 681.0h0M523.4 679.0h0M524.7 678.5h0M526.0 675.8h0M527.4 671.0h0M528.7 670.4h0M530.0 665.6h0M531.3 663.6h0M532.6 663.0h0M534.0 657.0h0M535.3 660.3h0M536.6 657.1h0M537.9 654.5h0M539.2 660.5h0M540.6 664.6h0M541.9 667.9h0M543.2 663.7h0M544.5 660.5h0M545.8 660.9h0M547.2 657.6h0M548.5 654.7h0M549.8 655.1h0M551.1 648.8h0M552.4 650.2h0M553.8 643.3h0M555.1 641.3h0M556.4 638.8h0M557.7 632.3h0M559.0 622.6h0M560.4 620.2h0M561.7 623.5h0M563.0 631.1h0M564.3 636.6h0M565.6 642.5h0M567.0 645.4h0M568.3 655.5h0M569.6 664.7h0M570.9 664.1h0M572.2 666.6h0M573.6 665.2h0M574.9 656.7h0M576.2 649.3h0M577.5 657.7h0M578.8 647.4h0M580.2 639.8h0M581.5 661.9h0M582.8 662.7h0M584.1 661.7h0M585.4 650.8h0M586.8 657.5h0M588.1 661.2h0M589.4 646.5h0M590.7 645.1h0M592.0 643.7h0M593.4 645.5h0M594.7 647.9h0M596.0 653.4h0M597.3 658.8h0M598.6 662.9h0M600.0 666.0h0M601.3 672.0h0M602.6 676.3h0M603.9 672.1h0M605.2 658.7h0M606.6 655.0h0M607.9 653.9h0M609.2 653.0h0M610.5 660.2h0M611.8 663.4h0M613.2 652.7h0M614.5 666.7h0M615.8 661.0h0M617.1 666.6h0M618.4 675.1h0M619.8 671.7h0M621.1 668.1h0M622.4 676.5h0M623.7 677.8h0M625.0 680.7h0M626.4 678.8h0M627.7 672.0h0M629.0 674.3h0M630.3 678.4h0M631.6 679.5h0M633.0 681.7h0M634.3 684.2h0M635.6 675.3h0M636.9 669.6h0M638.2 663.2h0M639.6 669.1h0M640.9 677.9h0M642.2 680.7h0M643.5 683.3h0M644.8 681.9h0M646.2 688.7h0M647.5 688.7h0M648.8 685.3h0M650.1 684.9h0M651.4 678.7h0M652.8 670.9h0M654.1 666.3h0M655.4 662.9h0M656.7 671.7h0M658.0 670.6h0M659.4 670.1h0M660.7 665.6h0M662.0 659.3h0M663.3 650.9h0M664.6 642.3h0M666.0 640.7h0M667.3 644.7h0M668.6 641.5h0M669.9 635.0h0M671.2 628.3h0M672.6 621.7h0M580.4 635.8h0M602.8 680.8h0M673.8 606.3h0M676.1 598.0h0M678.5 590.9h0M684.4 595.7h0M683.2 582.6h0M676.1 573.2h0M685.6 568.5h0M682.0 562.6h0M680.9 547.2h0M689.1 538.9h0M692.7 530.6h0M693.9 549.6h0M691.0 556.0h0M696.2 567.3h0M698.6 588.6h0M698.6 595.7h0M791.5 149.4h0M792.3 148.2h0M790.4 151.0h0M789.5 152.9h0M787.5 156.9h0M793.2 169.3h0M785.5 189.2h0M784.0 193.4h0M751.4 212.1h0M754.6 217.1h0M752.2 221.6h0M756.4 228.5h0M794.5 216.3h0M752.9 246.9h0M757.6 250.4h0M783.5 258.4h0M766.3 287.2h0M758.4 296.2h0M795.2 307.4h0M747.2 326.4h0M759.1 331.1h0M760.4 336.9h0M714.3 339.4h0M745.9 341.1h0M750.4 343.1h0M748.4 348.6h0M749.2 355.3h0M765.3 357.3h0M796.2 362.3h0M763.4 369.7h0M760.9 372.7h0M764.6 379.7h0M762.1 387.6h0M782.3 393.4h0M781.3 412.0h0M767.1 417.2h0M713.6 424.5h0M774.0 429.4h0M797.4 428.4h0M744.2 438.1h0M745.4 443.6h0M768.3 439.4h0M775.0 450.1h0M780.8 452.3h0M727.3 453.3h0M715.3 462.3h0M742.2 461.0h0M741.0 469.2h0M770.1 461.8h0M773.3 465.5h0M769.1 469.2h0M778.3 469.2h0M779.5 473.0h0M776.5 478.7h0M726.0 476.7h0M731.0 478.7h0M716.6 482.2h0M744.2 481.7h0M737.2 482.9h0M733.5 484.2h0M729.8 487.2h0M739.7 487.9h0M723.5 498.4h0M729.8 496.6h0M733.5 497.9h0M736.0 502.8h0M772.1 499.3h0M687.5 499.1h0M685.5 503.6h0M709.9 500.3h0M712.3 506.6h0M717.3 509.0h0M798.2 501.1h0M738.0 510.5h0M733.9 517.4h0M725.7 513.3h0M721.6 520.1h0M733.9 525.6h0M709.2 521.5h0M713.4 526.9h0M718.8 526.9h0M707.9 538.7h0M692.3 531.0h0M688.7 539.2h0M681.3 548.8h0M694.2 548.8h0M695.6 554.3h0M690.1 555.7h0M681.9 562.5h0M686.0 569.3h0M676.4 573.4h0M696.9 568.0h0M701.0 568.0h0M701.0 578.9h0M721.6 575.4h0M683.3 583.0h0M702.4 587.1h0M705.1 591.2h0M699.7 595.3h0M703.8 595.3h0M677.8 592.6h0M684.6 596.2h0M675.0 600.8h0M673.7 606.3h0M720.7 598.6h0M705.1 608.2h0M673.7 616.4h0M740.1 489.1h0M739.3 510.6h0M735.1 515.5h0M708.7 521.3h0M707.0 537.9h0M799.5 557.0h0M800.1 589.9h0M802.3 600.8h0M803.6 618.6h0M807.2 632.3h0M807.7 639.1h0M809.9 647.3h0M810.5 661.0h0M805.0 625.0h0M810.5 656.9h0M811.8 661.5h0M813.1 671.8h0M814.5 670.8h0M815.8 673.9h0M817.1 676.0h0M818.4 679.2h0M819.7 681.0h0M821.1 681.2h0M822.4 680.5h0M823.7 681.2h0M825.0 676.4h0M826.3 673.4h0M827.7 673.9h0M829.0 671.0h0M830.3 669.5h0M831.6 669.4h0M832.9 672.7h0M834.3 673.1h0M835.6 677.7h0M836.9 680.2h0M838.2 683.7h0M839.5 684.3h0M840.9 685.9h0M842.2 686.0h0M843.5 686.0h0M844.8 686.2h0M846.1 687.3h0M847.5 686.8h0M848.8 688.5h0M850.1 687.7h0M851.4 688.4h0M852.7 689.4h0M854.1 691.6h0M855.4 691.5h0M856.7 692.1h0M858.0 692.8h0M859.3 693.4h0M860.7 695.3h0M862.0 696.2h0M863.3 697.1h0M864.6 697.7h0M865.9 697.1h0M867.3 698.4h0M868.6 698.5h0M869.9 699.7h0M871.2 699.5h0M872.5 699.4h0M873.9 697.9h0M875.2 699.0h0M876.5 698.8h0M877.8 698.7h0M879.1 697.2h0M880.5 697.1h0M881.8 696.7h0M883.1 696.3h0M884.4 697.2h0M885.7 696.9h0M887.1 696.3h0M888.4 696.2h0M889.7 695.6h0M891.0 694.8h0M892.3 694.8h0M893.7 695.1h0M895.0 696.4h0M896.3 695.8h0M897.6 696.3h0M898.9 697.0h0M900.3 697.0h0M901.6 697.9h0M902.9 698.6h0M904.2 699.8h0M905.5 699.9h0M906.9 700.2h0M908.2 701.6h0M909.5 701.3h0M910.8 702.2h0M912.1 702.1h0M913.5 701.6h0M914.8 702.5h0M916.1 702.9h0M917.4 703.0h0M918.7 701.9h0M920.1 702.1h0M921.4 701.4h0M922.7 700.5h0M924.0 701.2h0M925.3 699.5h0M926.7 700.5h0M928.0 699.5h0M929.3 699.3h0M930.6 699.6h0M931.9 700.6h0M933.3 700.9h0M934.6 699.4h0M935.9 700.2h0M937.2 700.2h0M938.5 700.8h0M939.9 699.7h0M941.2 700.1h0M942.5 699.8h0M943.8 700.5h0M945.1 699.5h0M946.5 700.5h0M947.8 699.4h0M949.1 699.2h0M950.4 699.9h0M951.7 699.5h0M953.1 698.7h0M954.4 699.5h0M955.7 698.5h0M957.0 699.5h0M958.3 699.2h0M959.7 699.1h0M961.0 698.7h0M962.3 698.1h0M963.6 698.0h0M964.9 697.8h0M966.3 698.4h0M967.6 696.9h0M968.9 698.0h0M970.2 696.5h0M971.5 696.6h0M972.9 696.6h0M974.2 697.6h0M975.5 696.9h0M976.8 696.7h0M978.1 697.5h0M979.5 696.4h0M980.8 696.7h0M982.1 696.8h0M983.4 697.2h0M984.7 697.1h0M986.1 697.2h0M987.4 697.2h0M988.7 697.7h0M990.0 698.0h0M991.3 699.6h0M992.7 699.8h0M994.0 700.5h0M995.3 700.0h0M996.6 701.0h0M997.9 702.0h0M999.3 702.1h0M1000.6 701.9h0M1001.9 702.9h0M1003.2 703.6h0M1004.5 702.6h0M1005.9 702.5h0M1007.2 702.7h0M1008.5 703.3h0M1009.8 703.5h0M1011.1 702.4h0M1012.5 702.4h0M864.0 702.2h0M866.6 702.3h0M869.2 702.5h0M871.8 702.2h0M874.4 702.3h0M877.0 702.2h0M879.6 703.0h0M882.2 702.7h0M884.8 702.1h0M887.4 703.0h0M890.0 702.1h0M892.6 702.4h0M895.2 703.0h0M897.8 702.8h0M900.4 702.7h0M903.0 702.4h0M905.6 702.2h0M908.2 702.6h0M910.8 702.1h0M913.4 702.2h0M916.0 702.4h0M918.6 702.0h0M921.2 702.4h0M923.8 702.8h0M926.4 702.7h0M929.0 702.5h0M931.6 702.6h0M934.2 702.5h0M936.8 702.1h0M939.4 702.6h0M942.0 702.4h0M944.6 702.7h0M947.2 702.9h0M949.8 702.4h0M952.4 702.6h0M955.0 702.7h0M957.6 702.4h0M960.2 702.2h0M962.8 702.7h0M965.4 702.9h0M968.0 702.8h0M970.6 702.7h0M973.2 702.9h0M975.8 702.7h0M978.4 702.6h0M981.0 702.5h0M983.6 702.3h0M986.2 702.6h0M988.8 702.1h0M991.4 702.4h0M994.0 702.8h0M996.6 702.7h0M999.2 702.6h0M1001.8 702.3h0M1004.4 702.4h0M1007.0 702.5h0M1009.6 702.6h0M1012.2 702.4h0" stroke="#00f" stroke-width="9.6" stroke-linecap="round" fill="none"/>
</g>
<rect x="68.5" y="89.5" width="945.0" height="614.0" fill="none" stroke="#000" stroke-width="1.1"/>
<path d="M68.5 703.5h-5.4M1013.5 703.5h5.4M68.5 641.5h-5.4M1013.5 641.5h5.4M68.5 580.5h-5.4M1013.5 580.5h5.4M68.5 519.5h-5.4M1013.5 519.5h5.4M68.5 457.5h-5.4M1013.5 457.5h5.4M68.5 396.5h-5.4M1013.5 396.5h5.4M68.5 334.5h-5.4M1013.5 334.5h5.4M68.5 273.5h-5.4M1013.5 273.5h5.4M68.5 211.5h-5.4M1013.5 211.5h5.4M68.5 150.5h-5.4M1013.5 150.5h5.4M68.5 89.5h-5.4M1013.5 89.5h5.4M107.5 703.5v3.4M187.5 703.5v3.4M266.5 703.5v3.4M345.5 703.5v3.4M424.5 703.5v3.4M503.5 703.5v3.4M583.5 703.5v3.4M662.5 703.5v3.4M741.5 703.5v3.4M820.5 703.5v3.4M899.5 703.5v5.2M979.5 703.5v3.4" stroke="#000" stroke-width="1.1" fill="none"/>
<text x="58.4" y="710.1" font-size="18.06" text-anchor="end">0</text>
<text x="1023.3" y="710.1" font-size="18.06">0</text>
<text x="58.4" y="648.1" font-size="18.06" text-anchor="end">1</text>
<text x="1023.3" y="648.1" font-size="18.06">1</text>
<text x="58.4" y="587.1" font-size="18.06" text-anchor="end">2</text>
<text x="1023.3" y="587.1" font-size="18.06">2</text>
<text x="58.4" y="526.1" font-size="18.06" text-anchor="end">3</text>
<text x="1023.3" y="526.1" font-size="18.06">3</text>
<text x="58.4" y="464.1" font-size="18.06" text-anchor="end">4</text>
<text x="1023.3" y="464.1" font-size="18.06">4</text>
<text x="58.4" y="403.1" font-size="18.06" text-anchor="end">5</text>
<text x="1023.3" y="403.1" font-size="18.06">5</text>
<text x="58.4" y="341.1" font-size="18.06" text-anchor="end">6</text>
<text x="1023.3" y="341.1" font-size="18.06">6</text>
<text x="58.4" y="280.1" font-size="18.06" text-anchor="end">7</text>
<text x="1023.3" y="280.1" font-size="18.06">7</text>
<text x="58.4" y="218.1" font-size="18.06" text-anchor="end">8</text>
<text x="1023.3" y="218.1" font-size="18.06">8</text>
<text x="58.4" y="157.1" font-size="18.06" text-anchor="end">9</text>
<text x="1023.3" y="157.1" font-size="18.06">9</text>
<text x="35.2 46.7" y="96.1" font-size="18.06">10</text>
<text x="1023.6 1035.1" y="96.1" font-size="18.06">10</text>
<text x="106.9" y="726.1" font-size="19.44" text-anchor="middle">04</text>
<text x="186.1" y="726.1" font-size="19.44" text-anchor="middle">06</text>
<text x="265.3" y="726.1" font-size="19.44" text-anchor="middle">08</text>
<text x="333.1 344.3" y="726.1" font-size="19.44">10</text>
<text x="412.3 423.5" y="726.1" font-size="19.44">12</text>
<text x="491.5 502.7" y="726.1" font-size="19.44">14</text>
<text x="570.7 581.9" y="726.1" font-size="19.44">16</text>
<text x="649.9 661.1" y="726.1" font-size="19.44">18</text>
<text x="740.5" y="726.1" font-size="19.44" text-anchor="middle">20</text>
<text x="819.7" y="726.1" font-size="19.44" text-anchor="middle">22</text>
<text x="898.8" y="726.8" font-size="18.06" text-anchor="middle">Jan-26</text>
<text x="978.1" y="726.1" font-size="19.44" text-anchor="middle">02</text>
<text x="540.2" y="752.4" font-size="20.83" letter-spacing="0.24" text-anchor="middle">Time (UTC)</text>
<text transform="translate(24.8 396.3) rotate(-90)" font-size="20.83" text-anchor="middle">Cloud Base (km)</text>
<text transform="translate(1069.5 396.3) rotate(-90)" font-size="20.83" text-anchor="middle">Integrated Moisture (mm liquid | cm vapor)</text>
<text x="535.6" y="35.8" font-size="33.33" letter-spacing="0.15" text-anchor="middle">Wantagh, NY (WANT) Derived MWR Products</text>
<text x="540.4" y="80.2" font-size="27.78" letter-spacing="0.15" text-anchor="middle">03 UTC 01/25/20 - 03 UTC 01/26/20</text>
<rect x="78.8" y="98.8" width="235.5" height="120.6" rx="3.5" fill="#fff" fill-opacity="0.8" stroke="#ccc" stroke-width="1.3"/>
<circle cx="105.3" cy="115.8" r="5" fill="#000"/><circle cx="105.3" cy="145" r="5" fill="#f00"/><circle cx="105.3" cy="173.7" r="5" fill="#00f"/>
<path d="M84.3 199.8H124.9" stroke="rgb(0,128,0)" stroke-opacity="0.5" stroke-width="2.1"/>
<text x="140.6" y="121.0" font-size="19.44">Cloud Base</text>
<text x="140.6" y="149.6" font-size="19.44">Integrated Vapor</text>
<text x="140.6" y="178.2" font-size="19.44">Integrated Liquid</text>
<text x="140.6" y="206.8" font-size="19.44">Rain Flag</text>
<g transform="translate(980 724) scale(0.09183)">
<path fill="#eca70b" d="M65 320L95 300L130 275L140 255L125 240L120 220L150 210L190 208L225 218L260 215L300 200L320 190L330 175L315 160L325 140L350 120L365 90L385 70L420 65L525 65L530 100L528 150L535 190L540 230L530 280L528 330L525 380L523 430L517 447L560 443L600 432L638 416L643 428L600 450L540 473L478 496L470 491L488 468L503 452L490 440L470 420L440 400L410 375L380 355L330 350L65 350Z"/>
<text x="305" y="335" font-size="160" font-weight="bold" style="font-family:'Liberation Sans',sans-serif;fill:#fff;stroke:#fff;stroke-width:7" textLength="195" lengthAdjust="spacingAndGlyphs">NYS</text>
<text x="555" y="335" font-size="160" font-weight="bold" style="font-family:'Liberation Sans',sans-serif;fill:#4b2572;stroke:#4b2572;stroke-width:7" textLength="465" lengthAdjust="spacingAndGlyphs">Mesonet</text>
<text x="555" y="390" font-size="36" font-weight="bold" style="font-family:'Liberation Sans',sans-serif;fill:#4b2572" textLength="465" lengthAdjust="spacingAndGlyphs">UNIVERSITY AT ALBANY</text>
</g>
</svg></body></html>
